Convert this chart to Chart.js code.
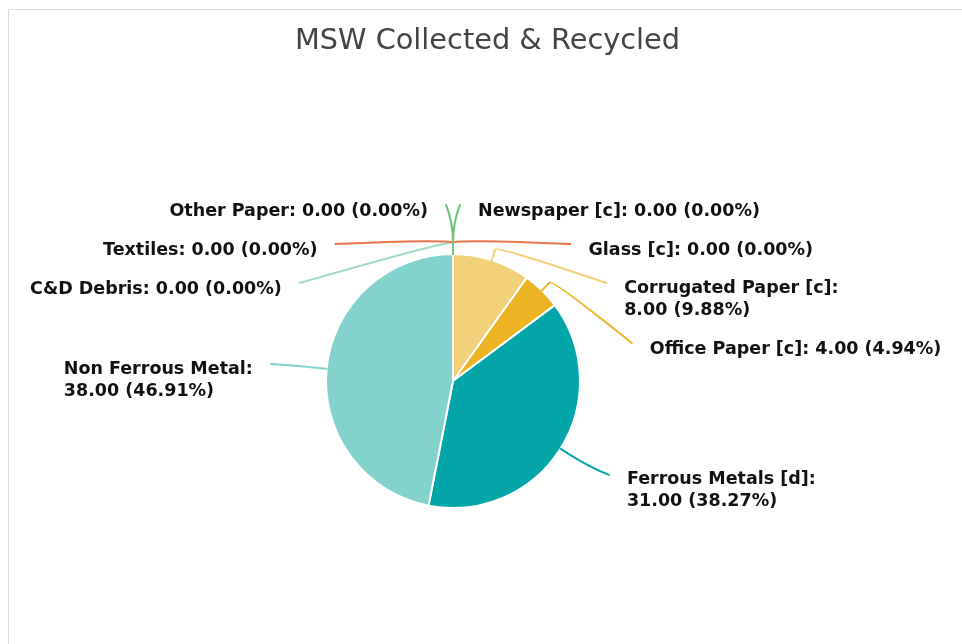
<!DOCTYPE html>
<html>
<head>
<meta charset="utf-8">
<script src="https://cdn.jsdelivr.net/npm/chart.js@4.4.1/dist/chart.umd.min.js"></script>
<style>
  html, body { margin: 0; padding: 0; background: #ffffff; overflow: hidden; }
  #wrap { position: absolute; left: 0; top: 0; width: 962px; height: 644px; }
</style>
</head>
<body>
<div id="wrap"><canvas id="c" width="962" height="644" style="width:962px;height:644px"></canvas></div>
<script>
// ---- data ----
const chartTitle = 'MSW Collected & Recycled';
const categories = ['Newspaper [c]', 'Glass [c]', 'Corrugated Paper [c]', 'Office Paper [c]',
                    'Ferrous Metals [d]', 'Non Ferrous Metal', 'C&D Debris', 'Textiles', 'Other Paper'];
const values = [0, 0, 8, 4, 31, 38, 0, 0, 0];
const colors = ['#6cc57b', '#e8764b', '#f3d07a', '#ecb322', '#02a6a9', '#83d2ce', '#a3dbc4', '#e8764b', '#6cc57b'];

// ---- outside labels with leader lines ----
const LABEL_FONT = 'bold 17.5px "DejaVu Sans"';
const outsideLabels = {
  id: 'outsideLabels',
  beforeDraw(chart) {
    const ctx = chart.ctx;
    ctx.save();
    ctx.strokeStyle = '#dddddd';
    ctx.lineWidth = 1;
    ctx.beginPath();
    ctx.moveTo(8.5, chart.height);
    ctx.lineTo(8.5, 9.5);
    ctx.lineTo(chart.width, 9.5);
    ctx.stroke();
    ctx.restore();
  },
  afterDatasetsDraw(chart) {
    const ctx = chart.ctx;
    const arcs = chart.getDatasetMeta(0).data;
    if (!arcs.length) return;
    const cx = arcs[0].x, cy = arcs[0].y, r = arcs[0].outerRadius;
    const total = values.reduce((a, b) => a + b, 0);
    const R = r + 49, L1 = 11, L2 = 7, GAP = 18, LH = 22, MAXW = 310;
    ctx.save();
    ctx.font = LABEL_FONT;
    const items = arcs.map((arc, i) => {
      const a = (arc.startAngle + arc.endAngle) / 2 + Math.PI / 2;
      const dx = Math.sin(a), dy = -Math.cos(a);
      const pct = total ? values[i] / total * 100 : 0;
      const vs = values[i].toFixed(2) + ' (' + pct.toFixed(2) + '%)';
      const full = categories[i] + ': ' + vs;
      const lines = ctx.measureText(full).width > MAXW ? [categories[i] + ':', vs] : [full];
      return { i, a, dx, dy, lines, right: a < Math.PI - 1e-9,
               yIdeal: cy + R * dy, h: lines.length * 21 + 18 };
    });
    [true, false].forEach(side => {
      const list = items.filter(it => it.right === side).sort((p, q) => {
        const d = Math.round(p.yIdeal * 100) - Math.round(q.yIdeal * 100);
        return d || (side ? p.i - q.i : q.i - p.i);
      });
      let prev = -Infinity;
      list.forEach(it => { it.y = Math.max(it.yIdeal, prev); prev = it.y + it.h; });
    });
    items.forEach(it => {
      const dir = it.right ? 1 : -1;
      const ddy = it.y - cy;
      it.x = cx + dir * (Math.sqrt(Math.max(R * R - ddy * ddy, 0)) + L2);
      const p0 = { x: cx + r * it.dx, y: cy + r * it.dy };
      const p1 = { x: cx + (r + L1) * it.dx, y: cy + (r + L1) * it.dy };
      const p2 = { x: it.x, y: it.y };
      const dist = Math.hypot(p2.x - p1.x, p2.y - p1.y);
      const diffY = p2.y - p1.y;
      let k = 4;
      if (Math.abs(it.dy) > 1e-6 && diffY * it.dy > 0) k = Math.min(diffY / it.dy, 0.55 * dist);
      const c = { x: p1.x + it.dx * k, y: p1.y + it.dy * k };
      ctx.beginPath();
      ctx.moveTo(p0.x, p0.y);
      ctx.lineTo(p1.x, p1.y);
      ctx.quadraticCurveTo(c.x, c.y, p2.x, p2.y);
      ctx.strokeStyle = colors[it.i];
      ctx.lineWidth = 2;
      ctx.lineCap = 'round';
      ctx.lineJoin = 'round';
      ctx.stroke();
      // text
      ctx.fillStyle = '#111111';
      ctx.textBaseline = 'middle';
      ctx.textAlign = 'left';
      const bw = Math.max(...it.lines.map(s => ctx.measureText(s).width));
      const bx = it.right ? p2.x + GAP : p2.x - GAP - bw;
      const y0 = it.y + (it.lines.length === 1 ? 6.5 : 5);
      it.lines.forEach((s, j) => ctx.fillText(s, bx, y0 + j * LH));
    });
    ctx.restore();
  },
  afterDraw(chart) {
    const ctx = chart.ctx;
    ctx.save();
    ctx.font = '28.8px "DejaVu Sans"';
    ctx.fillStyle = '#444444';
    ctx.textAlign = 'center';
    ctx.textBaseline = 'alphabetic';
    ctx.fillText(chartTitle, 487.5, 48.5);
    ctx.restore();
  }
};

new Chart(document.getElementById('c'), {
  type: 'pie',
  data: {
    labels: categories,
    datasets: [{
      data: values,
      backgroundColor: colors,
      borderColor: '#ffffff',
      borderWidth: 2
    }]
  },
  options: {
    responsive: false,
    animation: false,
    layout: { padding: { left: 325, right: 381, top: 253, bottom: 135 } },
    plugins: {
      legend: { display: false },
      title: { display: false },
      tooltip: { enabled: false }
    }
  },
  plugins: [outsideLabels]
});
</script>
</body>
</html>
